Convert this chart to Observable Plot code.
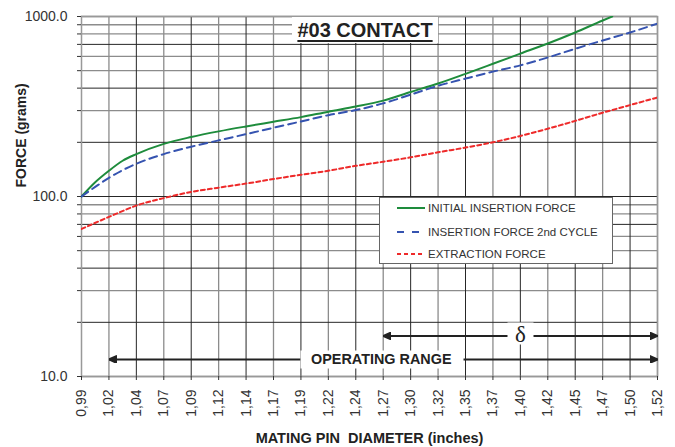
<!DOCTYPE html>
<html>
<head>
<meta charset="utf-8">
<script src="https://cdn.jsdelivr.net/npm/d3@7"></script>
<script src="https://cdn.jsdelivr.net/npm/@observablehq/plot@0.6"></script>
<style>
  body { margin: 0; background: #fff; }
  #chart { position: relative; width: 675px; height: 447px; font-family: "Liberation Sans", Arial, sans-serif; }
  #title { position: absolute; left: 292px; top: 17px; width: 146px; height: 26px; background: #fff;
           text-align: center; font-weight: bold; font-size: 20px; line-height: 27px; color: #222;
           text-decoration: underline; text-decoration-thickness: 1.5px; text-underline-offset: 3px; }
  #legend { position: absolute; left: 379px; top: 197px; width: 232px; height: 65px; background: #fff;
            border: 1.5px solid #666; }
  .row { position: absolute; left: 17px; height: 14px; display: flex; align-items: center;
         font-size: 11.5px; color: #333; white-space: nowrap; }
  .row svg { margin-right: 3px; }
</style>
</head>
<body>
<div id="chart"></div>
<script>
// ---- data ----
const xLabels = ["0,99","1,02","1,04","1,07","1,09","1,12","1,14","1,17","1,19","1,22","1,24",
                 "1,27","1,30","1,32","1,35","1,37","1,40","1,42","1,45","1,47","1,50","1,52"];
const yTicks = [10,20,30,40,50,60,70,80,90,100,200,300,400,500,600,700,800,900,1000];
const yLabeled = [10, 100, 1000];
const yDark = [20,40,70,100,200,400,700];

// x positions are grid columns (0 = "0,99" … 21 = "1,52")
const initialX     = [0,0.5,1,1.5,2,3,4,5,6,7,8,9,10,11,12,13,14,15,16,17,18,19,19.35];
const initialForce = [100,120,139,158,172,196,214,230,245,260,276,296,316,341,381,424,480,546,622,708,815,950,1000];

const secondX      = [0,0.5,1,2,3,4,5,6,7,8,9,10,11,12,13,14,15,16,17,18,19,20,21];
const secondForce  = [100,113,127,152,172,189,205,222,241,261,283,302,329,368,412,452,494,535,592,662,736,815,914];

const extractionX     = [0,1,2,3,4,5,6,7,8,9,10,11,12,13,14,15,16,17,18,19,20,21];
const extractionForce = [66,77,89,98,106,112,118,125,132,139,148,156,165,176,187,200,217,238,263,292,322,355];

const seriesNames = ["INITIAL INSERTION FORCE", "INSERTION FORCE 2nd CYCLE", "EXTRACTION FORCE"];
const seriesX = [initialX, secondX, extractionX];
const seriesY = [initialForce, secondForce, extractionForce];
const seriesColor = ["#1e8c3c", "#3553b0", "#ee2a2a"];
const seriesDash = [null, "8,5", "4,3"];
const legendDash = [null, "7,8", "4,3"];

const ranges = [
  {label: "OPERATING RANGE", from: "1,02", to: "1,52", level: 12.43, labelAt: 10.93},
  {label: "δ", from: "1,27", to: "1,52", level: 16.8, labelAt: 16}
];

// ---- helpers ----
const series = seriesNames.map((name, k) =>
  seriesX[k].map((x, i) => ({name, x, force: seriesY[k][i]})));
const xIdx = xLabels.map((_, i) => i);
const rangeData = ranges.map(r => ({...r, x1: xLabels.indexOf(r.from), x2: xLabels.indexOf(r.to)}));

function filledArrow(color) {
  const ns = "http://www.w3.org/2000/svg";
  const m = document.createElementNS(ns, "marker");
  m.setAttribute("viewBox", "-8 -4 8 8");
  m.setAttribute("markerWidth", "8");
  m.setAttribute("markerHeight", "8");
  m.setAttribute("markerUnits", "userSpaceOnUse");
  m.setAttribute("refX", "0");
  m.setAttribute("refY", "0");
  m.setAttribute("orient", "auto-start-reverse");
  const p = document.createElementNS(ns, "path");
  p.setAttribute("d", "M-8,-3.5L0,0L-8,3.5Z");
  p.setAttribute("fill", color);
  m.appendChild(p);
  return m;
}

const dark = "#262626", gray = "#8c8c8c";

const chart = Plot.plot({
  width: 675,
  height: 447,
  marginLeft: 81,
  marginRight: 18,
  marginTop: 16,
  marginBottom: 71,
  style: {fontFamily: "'Liberation Sans', Arial, sans-serif", fontSize: "14px", color: "#333", background: "#fff"},
  x: {type: "linear", domain: [0, 21]},
  y: {type: "log", domain: [10, 1000]},
  marks: [
    Plot.ruleX(xIdx.filter(i => i % 2 === 1), {stroke: gray, strokeWidth: 1.3}),
    Plot.ruleY(yTicks.filter(v => !yDark.includes(v)), {stroke: gray, strokeWidth: 1.3}),
    Plot.ruleX(xIdx.filter(i => i % 2 === 0), {stroke: dark, strokeWidth: 1}),
    Plot.ruleY(yDark, {stroke: dark, strokeWidth: 1}),
    Plot.frame({stroke: "#999", strokeWidth: 1.5}),
    ...series.map((data, k) => Plot.line(data, {
      x: "x", y: "force", stroke: seriesColor[k], strokeWidth: 2,
      strokeDasharray: seriesDash[k] ?? undefined, curve: "monotone-x", clip: true
    })),
    Plot.link(rangeData, {x1: "x1", x2: "x2", y1: "level", y2: "level", stroke: "#222", strokeWidth: 2,
      markerStart: filledArrow, markerEnd: filledArrow}),
    Plot.frame({fill: "#fff", insetLeft: 219, insetRight: 194, insetTop: 334, insetBottom: 8}),
    Plot.frame({fill: "#fff", insetLeft: 426, insetRight: 124, insetTop: 306, insetBottom: 32}),
    Plot.text(rangeData.slice(0, 1), {x: "labelAt", y: "level", text: "label", fontWeight: "bold", fontSize: 14.4, fill: "#222"}),
    Plot.text(rangeData.slice(1), {x: "labelAt", y: "level", text: "label", fontSize: 23, fill: "#222",
      fontFamily: "'Liberation Serif', 'DejaVu Serif', serif", dy: -1}),
    Plot.axisY(yTicks, {tickSize: 4, tickPadding: 10, label: null, fontSize: 14,
      tickFormat: d => yLabeled.includes(d) ? d.toFixed(1) : ""}),
    Plot.axisX(xIdx, {tickSize: 4, tickPadding: 9, tickRotate: -90, label: null, fontSize: 14,
      tickFormat: i => xLabels[i]}),
    Plot.text(["FORCE (grams)"], {frameAnchor: "left", rotate: -90, dx: -56, dy: -9, lineAnchor: "bottom",
      fontWeight: "bold", fontSize: 14, fill: "#222"}),
    Plot.text(["MATING PIN  DIAMETER (inches)"], {frameAnchor: "bottom", dy: 66, lineAnchor: "bottom",
      fontWeight: "bold", fontSize: 14.5, fill: "#222"})
  ]
});
chart.style.whiteSpace = "pre";

const root = document.getElementById("chart");
root.appendChild(chart);

const title = document.createElement("div");
title.id = "title";
title.textContent = "#03 CONTACT";
root.appendChild(title);

const legend = document.createElement("div");
legend.id = "legend";
const rowTops = [3, 27, 49];
seriesNames.forEach((name, k) => {
  const row = document.createElement("div");
  row.className = "row";
  row.style.top = rowTops[k] + "px";
  const dash = legendDash[k] ? ` stroke-dasharray="${legendDash[k]}"` : "";
  row.innerHTML = `<svg width="28" height="6"><line x1="0" y1="3" x2="28" y2="3" stroke="${seriesColor[k]}" stroke-width="2"${dash}/></svg>`;
  const span = document.createElement("span");
  span.textContent = name;
  row.appendChild(span);
  legend.appendChild(row);
});
root.appendChild(legend);
</script>
</body>
</html>
